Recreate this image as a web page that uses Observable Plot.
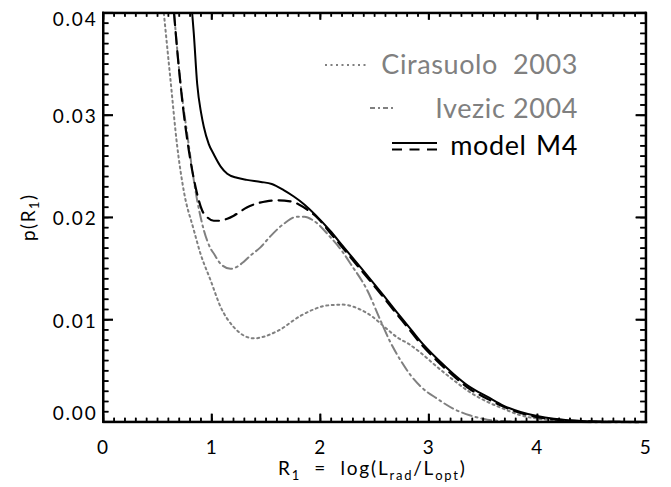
<!DOCTYPE html>
<html><head><meta charset="utf-8">
<script src="https://cdn.jsdelivr.net/npm/d3@7"></script>
<script src="https://cdn.jsdelivr.net/npm/@observablehq/plot@0.6"></script>
<style>
body{margin:0;background:#fff;}
#chart{position:relative;width:671px;height:487px;}
#chart svg{font-family:Lato,'DejaVu Sans',sans-serif;font-size:19px;letter-spacing:1.8px;}
</style>
</head><body><div id="chart"></div>
<script>
// ---- data ----
const cirasuoloX = [0.556, 0.617, 0.679, 0.74, 0.832, 0.89, 0.986, 1.078, 1.2, 1.385, 1.6, 1.815, 1.93, 2.05, 2.2, 2.37, 2.48, 2.58, 2.706, 2.82, 2.921, 3.074, 3.227, 3.381, 3.535, 3.688, 3.842, 4.0, 4.2, 4.5, 5.0];
const cirasuoloY = [0.040, 0.0335, 0.0270, 0.0226, 0.0188, 0.0166, 0.0139, 0.0113, 0.0093, 0.0082, 0.0089, 0.0104, 0.0110, 0.0114, 0.0115, 0.0110, 0.0103, 0.0094, 0.0083, 0.0076, 0.0068, 0.0054, 0.0041, 0.0029, 0.0020, 0.0013, 0.00068, 0.00035, 0.00015, 0.00005, 0.00001];

const ivezicX = [0.65, 0.71, 0.771, 0.863, 0.924, 0.986, 1.016, 1.078, 1.17, 1.23, 1.293, 1.354, 1.446, 1.539, 1.661, 1.785, 1.85, 1.937, 2.09, 2.2, 2.276, 2.43, 2.55, 2.644, 2.74, 2.829, 2.921, 3.074, 3.227, 3.381, 3.535, 3.7, 4.0, 5.0];
const ivezicY = [0.040, 0.0331, 0.0282, 0.0217, 0.0188, 0.0170, 0.0165, 0.0155, 0.0150, 0.0152, 0.0157, 0.0163, 0.0171, 0.0182, 0.0194, 0.0201, 0.0201, 0.0197, 0.0181, 0.0167, 0.0155, 0.0129, 0.0100, 0.0078, 0.0060, 0.0046, 0.0035, 0.0023, 0.0013, 0.00065, 0.00025, 0.0001, 0.00002, 0.0];

const modelX = [0.817, 0.832, 0.863, 0.90, 0.924, 0.97, 1.016, 1.08, 1.14, 1.23, 1.32, 1.45, 1.55, 1.66, 1.75, 1.85, 1.95, 2.09, 2.2, 2.34, 2.45, 2.58, 2.7, 2.8, 2.921, 3.074, 3.227, 3.381, 3.535, 3.688, 3.842, 3.995, 4.149, 4.4, 4.7, 5.0];
const modelY = [0.040, 0.038, 0.0331, 0.0302, 0.0289, 0.0272, 0.0262, 0.0250, 0.0243, 0.0239, 0.0237, 0.0235, 0.0233, 0.0227, 0.0221, 0.0213, 0.0203, 0.0187, 0.0173, 0.0155, 0.0141, 0.0124, 0.0108, 0.0095, 0.0079, 0.0062, 0.0047, 0.0034, 0.0025, 0.0016, 0.0010, 0.0006, 0.00033, 0.00012, 0.00004, 0.00001];

const modelDashX = [0.65, 0.679, 0.725, 0.786, 0.848, 0.909, 0.96, 1.016, 1.07, 1.14, 1.2, 1.32, 1.416, 1.5, 1.6, 1.72, 1.8, 1.876, 1.97, 2.09, 2.2, 2.34, 2.45, 2.58, 2.7, 2.8, 2.921, 3.074, 3.227, 3.381, 3.535, 3.688, 3.842, 3.995, 4.149, 4.4, 4.7, 5.0];
const modelDashY = [0.040, 0.0364, 0.0315, 0.0266, 0.0230, 0.0207, 0.0200, 0.0197, 0.0197, 0.0199, 0.0202, 0.0210, 0.0214, 0.0216, 0.0217, 0.0216, 0.0213, 0.0208, 0.0200, 0.0185, 0.0171, 0.0153, 0.0139, 0.0122, 0.0106, 0.0093, 0.0077, 0.0060, 0.0045, 0.0032, 0.0023, 0.0015, 0.0009, 0.0005, 0.00028, 0.0001, 0.00003, 0.00001];

const xTicks = [0, 1, 2, 3, 4, 5];
const yTicks = [0.00, 0.01, 0.02, 0.03, 0.04];
const legendLabels = ["Cirasuolo  2003", "Ivezic 2004", "model M4"];

// ---- layout ----
const W = 671, H = 487;
const mL = 103, mR = 25.3, mT = 12.7, mB = 65.3;
const pw = W - mL - mR, ph = H - mT - mB;
const FONT = "Lato, 'DejaVu Sans', sans-serif";
const GREY = "#808080";

const toRows = (xs, ys) => xs.map((x, i) => ({x, y: ys[i]}));
const cirasuolo = toRows(cirasuoloX, cirasuoloY);
const ivezic = toRows(ivezicX, ivezicY);
const model = toRows(modelX, modelY);
const modelDash = toRows(modelDashX, modelDashY);

const xMinor = d3.range(0, 51).map(i => i / 10);
const yMinor = d3.range(0, 41).map(i => i / 1000);
const fmtY = d3.format(".2f");
const tickStyle = {tickSize: 0, label: null, fontSize: 19};

const plot = Plot.plot({
  width: W, height: H,
  marginLeft: mL, marginRight: mR, marginTop: mT, marginBottom: mB,
  x: {domain: [0, 5]},
  y: {domain: [0, 0.04]},
  marks: [
    Plot.line(cirasuolo, {x: "x", y: "y", stroke: GREY, strokeWidth: 2, strokeDasharray: "2,3.5", curve: "monotone-x"}),
    Plot.line(ivezic, {x: "x", y: "y", stroke: GREY, strokeWidth: 2, strokeDasharray: "10,4,2,4", curve: "monotone-x"}),
    Plot.line(modelDash, {x: "x", y: "y", stroke: "black", strokeWidth: 2.2, strokeDasharray: "12,7", curve: "monotone-x"}),
    Plot.line(model, {x: "x", y: "y", stroke: "black", strokeWidth: 2, curve: "monotone-x"}),
    Plot.ruleX(xMinor, {x: d => d, insetTop: ph - 4, stroke: "black", strokeWidth: 1.3}),
    Plot.ruleX(xMinor, {x: d => d, insetBottom: ph - 4, stroke: "black", strokeWidth: 1.3}),
    Plot.ruleX(xTicks, {x: d => d, insetTop: ph - 8, stroke: "black", strokeWidth: 1.6}),
    Plot.ruleX(xTicks, {x: d => d, insetBottom: ph - 7, stroke: "black", strokeWidth: 1.6}),
    Plot.ruleY(yMinor, {y: d => d, insetRight: pw - 5.5, stroke: "black", strokeWidth: 1.3}),
    Plot.ruleY(yMinor, {y: d => d, insetLeft: pw - 5.5, stroke: "black", strokeWidth: 1.3}),
    Plot.ruleY(yTicks, {y: d => d, insetRight: pw - 10, stroke: "black", strokeWidth: 1.6}),
    Plot.ruleY(yTicks, {y: d => d, insetLeft: pw - 10, stroke: "black", strokeWidth: 1.6}),
    Plot.frame({stroke: "black", strokeWidth: 2}),
    Plot.axisX({...tickStyle, ticks: xTicks, tickPadding: 18, tickFormat: d => String(d)}),
    Plot.axisY({...tickStyle, ticks: yTicks.slice(1, 4), tickPadding: 6, tickFormat: fmtY, dy: 1.5}),
    Plot.axisY({...tickStyle, ticks: [yTicks[4]], tickPadding: 6, tickFormat: fmtY, dy: 7}),
    Plot.axisY({...tickStyle, ticks: [yTicks[0]], tickPadding: 6, tickFormat: fmtY, dy: -8})
  ]
});
document.getElementById("chart").appendChild(plot);

const svg = d3.select(plot);
const sx = plot.scale("x"), sy = plot.scale("y");
const X = v => sx.apply(v), Y = v => sy.apply(v);
const x0 = X(0), x1 = X(5), y0 = Y(0), y1 = Y(0.04);

// ---- axis titles with subscripts ----
const xt = svg.append("text")
  .attr("x", (x0 + x1) / 2 - 2).attr("y", 475)
  .attr("text-anchor", "middle")
  .attr("fill", "black")
  .style("font-family", FONT).style("font-size", "19px").style("letter-spacing", "1.8px").style("white-space", "pre");
xt.append("tspan").text("R");
xt.append("tspan").attr("font-size", "13px").attr("dy", 5).text("1");
xt.append("tspan").attr("dy", -5).text("  =  log(L");
xt.append("tspan").attr("font-size", "13px").attr("dy", 5).text("rad");
xt.append("tspan").attr("dy", -5).text("/L");
xt.append("tspan").attr("font-size", "13px").attr("dy", 5).text("opt");
xt.append("tspan").attr("dy", -5).text(")");

const yt = svg.append("text")
  .attr("transform", `translate(35,${(y0 + y1) / 2}) rotate(-90)`)
  .attr("text-anchor", "middle")
  .attr("fill", "black")
  .style("font-family", FONT).style("font-size", "19px").style("letter-spacing", "1.5px");
yt.append("tspan").text("p(R");
yt.append("tspan").attr("font-size", "13px").attr("dy", 4).text("1");
yt.append("tspan").attr("dy", -4).text(")");

// ---- legend ----
const lg = svg.append("g").style("font-family", FONT).style("font-size", "27px").style("letter-spacing", "0.6px");
lg.append("line").attr("x1", 325).attr("x2", 367).attr("y1", 65).attr("y2", 65)
  .attr("stroke", GREY).attr("stroke-width", 2).attr("stroke-dasharray", "2,3.5");
lg.append("line").attr("x1", 370).attr("x2", 396).attr("y1", 108).attr("y2", 108)
  .attr("stroke", GREY).attr("stroke-width", 2).attr("stroke-dasharray", "5,3,2,3");
lg.append("line").attr("x1", 392).attr("x2", 437).attr("y1", 143).attr("y2", 143)
  .attr("stroke", "black").attr("stroke-width", 2);
lg.append("line").attr("x1", 392).attr("x2", 437).attr("y1", 149.5).attr("y2", 149.5)
  .attr("stroke", "black").attr("stroke-width", 2).attr("stroke-dasharray", "10,7.5");
const lgY = [74, 118.3, 155];
const lgCol = [GREY, GREY, "black"];
legendLabels.forEach((t, i) => {
  lg.append("text").attr("x", 578).attr("y", lgY[i]).attr("text-anchor", "end")
    .attr("fill", lgCol[i]).style("white-space", "pre").style("word-spacing", i === 2 ? "2px" : "0px").text(t);
});

// ---- overlay: frame and inward ticks as filled rects, positioned via Plot's scales ----
const ov = d3.select("#chart").append("svg")
  .attr("width", W).attr("height", H)
  .style("position", "absolute").style("left", "0px").style("top", "0px").style("pointer-events", "none");
const R = (x, y, w, h) => ov.append("rect").attr("x", x).attr("y", y).attr("width", w).attr("height", h).attr("fill", "black");
const isMajorX = v => Math.abs(v - Math.round(v)) < 1e-9;
const isMajorY = v => Math.abs(v * 100 - Math.round(v * 100)) < 1e-9;
xMinor.forEach(v => {
  const big = isMajorX(v), w = big ? 1.6 : 1.3;
  const lb = big ? 8 : 4, lt = big ? 7 : 4;
  R(X(v) - w / 2, y0 - lb, w, lb);
  R(X(v) - w / 2, y1, w, lt);
});
yMinor.forEach(v => {
  const big = isMajorY(v), w = big ? 1.6 : 1.3, l = big ? 10 : 5.5;
  R(x0, Y(v) - w / 2, l, w);
  R(x1 - l, Y(v) - w / 2, l, w);
});
R(x0 - 1, y1 - 1, x1 - x0 + 2, 2);
R(x0 - 1, y0 - 1, x1 - x0 + 2, 2);
R(x0 - 1, y1 - 1, 2, y0 - y1 + 2);
R(x1 - 1, y1 - 1, 2, y0 - y1 + 2);
</script>
</body></html>
